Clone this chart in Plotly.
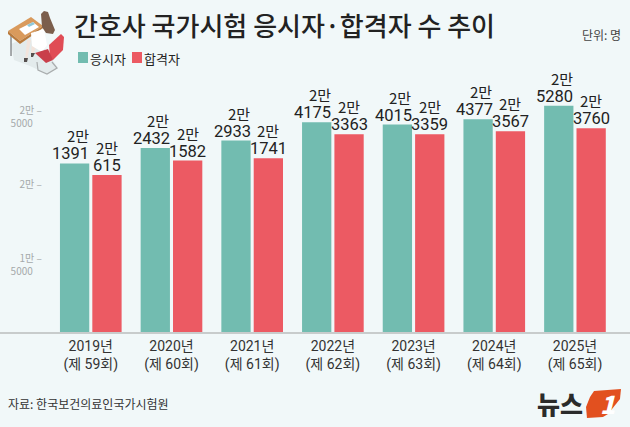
import plotly.graph_objects as go

years = ["2019년<br>(제 59회)", "2020년<br>(제 60회)", "2021년<br>(제 61회)", "2022년<br>(제 62회)",
         "2023년<br>(제 63회)", "2024년<br>(제 64회)", "2025년<br>(제 65회)"]
applicants = [21391, 22432, 22933, 24175, 24015, 24377, 25280]
passers = [20615, 21582, 21741, 23363, 23359, 23567, 23760]
tick_vals = [15000, 20000, 25000]
tick_text = ["&nbsp;<br>1만 – <br>5000     ", "2만 – ", "&nbsp;<br>2만 – <br>5000     "]

TEAL, RED, BG, INK = "#72bcb0", "#ec5a63", "#f1f8f9", "#222222"
KR = "Noto Sans CJK KR"
NUM = "Roboto, Noto Sans CJK KR"
W, H = 630, 427
xs = list(range(len(years)))

fig = go.Figure()
fig.add_bar(x=xs, y=applicants, name="응시자", marker=dict(color=TEAL, line_width=0), width=0.363, offset=-0.382)
fig.add_bar(x=xs, y=passers, name="합격자", marker=dict(color=RED, line_width=0), width=0.363, offset=0.019)

ann = []
def label(x, v, dx_man, dx_num):
    man = v // 10000
    rest = v % 10000
    ann.append(dict(x=x, y=v, xref="x", yref="y", text=f"{man}만", showarrow=False, xanchor="center", yanchor="bottom",
                    xshift=dx_man, yshift=15, font=dict(family=KR, size=15, color=INK)))
    ann.append(dict(x=x, y=v, xref="x", yref="y", text=str(rest), showarrow=False, xanchor="center", yanchor="bottom",
                    xshift=dx_num, yshift=-2, font=dict(family=NUM, size=16.5, color=INK)))
for i in xs:
    label(i - 0.2, applicants[i], 3, -4)
    label(i + 0.2, passers[i], 0, 0)

def note(x, y, text, size, color=INK, **kw):
    ann.append(dict(x=x / W, y=1 - y / H, xref="paper", yref="paper", text=text, showarrow=False, xanchor="left",
                    yanchor="middle", font=dict(family=KR, size=size, color=color, **kw)))
note(88, 58, "응시자", 13)
note(142, 58, "합격자", 13)
note(580, 35, "단위: 명", 12, "#444444")
note(6, 403, "자료: 한국보건의료인국가시험원", 12, "#333333")
note(535, 403, "뉴스", 25, "#2b2b2b", weight=800)
note(598, 403, "<i>1</i>", 25, "#ffffff", weight=900)

def px_path(pts, fill, closed=True, lc=None, lw=0):
    d = "M" + "L".join(f"{x/W:.4f},{1-y/H:.4f}" for x, y in pts) + ("Z" if closed else "")
    return dict(type="path", xref="paper", yref="paper", path=d, fillcolor=fill if closed else "rgba(0,0,0,0)",
                line=dict(width=lw, color=lc or "rgba(0,0,0,0)"), layer="above")

shapes = [
    px_path([(78, 52), (88, 52), (88, 63), (78, 63)], TEAL),
    px_path([(132, 52), (142, 52), (142, 63), (132, 63)], RED),
    # illustration: shadow
    px_path([(11, 44), (34, 34), (58, 68), (47, 74), (30, 66), (14, 60)], "#e3ebec"),
    # desk legs
    px_path([(11, 35), (11, 56)], "", False, "#8c8f90", 1.5),
    px_path([(33, 42), (33, 52)], "", False, "#8c8f90", 1.5),
    # legs and shoes
    px_path([(27, 40), (31, 40), (27, 60), (25, 60)], "#f2e4dc"),
    px_path([(32, 40), (38, 42), (33, 55), (31, 55)], "#f2e4dc"),
    px_path([(24, 58), (28, 58), (27, 62), (24, 62)], "#55504e"),
    px_path([(31, 53), (35, 53), (33, 57), (31, 57)], "#55504e"),
    # desk
    px_path([(8, 31), (31, 17), (43, 26), (20, 41)], "#d99a5c"),
    px_path([(8, 31), (20, 41), (43, 26), (43, 28), (20, 44), (8, 34)], "#b97a3c"),
    px_path([(19, 29), (33, 22), (39, 27), (25, 35)], "#ffffff"),
    px_path([(27, 25), (33, 22), (35, 24), (29, 27)], "#8fc7d8"),
    # woman
    px_path([(31, 33), (44, 29), (47, 45), (42, 52), (32, 46)], "#ffffff"),
    px_path([(41, 14), (44, 11), (48, 12), (50, 18), (55, 30), (53, 34), (46, 33), (42, 27)], "#7b5e4c"),
    # chair
    px_path([(37, 62), (38, 70), (47, 74), (57, 68), (52, 62)], "", False, "#a9adae", 1.2),
    px_path([(49, 45), (61, 34), (64, 37), (63, 50), (53, 60), (50, 57)], "#e04c55"),
    px_path([(35, 53), (48, 49), (53, 60), (46, 63)], "#c93f4a"),
    # logo
    px_path([(594, 391), (621, 389), (620, 399), (608, 414), (603, 417), (587, 418), (586, 407), (590, 397)], "#e2501f"),
]

fig.update_layout(
    width=W, height=H, autosize=False,
    margin=dict(l=0, r=0, t=0, b=0),
    paper_bgcolor=BG, plot_bgcolor=BG,
    showlegend=False,
    title=dict(text="간호사 국가시험 응시자·합격자 수 추이", x=74 / W, xanchor="left", y=1 - 27 / H, yanchor="middle",
               font=dict(family=KR, size=26, color=INK, weight=500)),
    annotations=ann, shapes=shapes,
    xaxis=dict(range=[-1.125, 6.682], domain=[0, 1], tickvals=xs, ticktext=years, ticks="", showgrid=False,
               showline=True, linecolor="#c8cccc", linewidth=2, zeroline=False,
               tickfont=dict(family=NUM, size=14, color="#333333")),
    yaxis=dict(range=[10000, 32432], domain=[95 / H, 1], tickvals=tick_vals, ticktext=tick_text, ticks="",
               showgrid=False, zeroline=False, showline=False, anchor="free", position=44 / W,
               tickfont=dict(family=KR, size=10, color="#a5a9aa")),
)
fig.write_html("out.html", config=dict(displayModeBar=False),
               post_script="document.body.style.margin='0';")
